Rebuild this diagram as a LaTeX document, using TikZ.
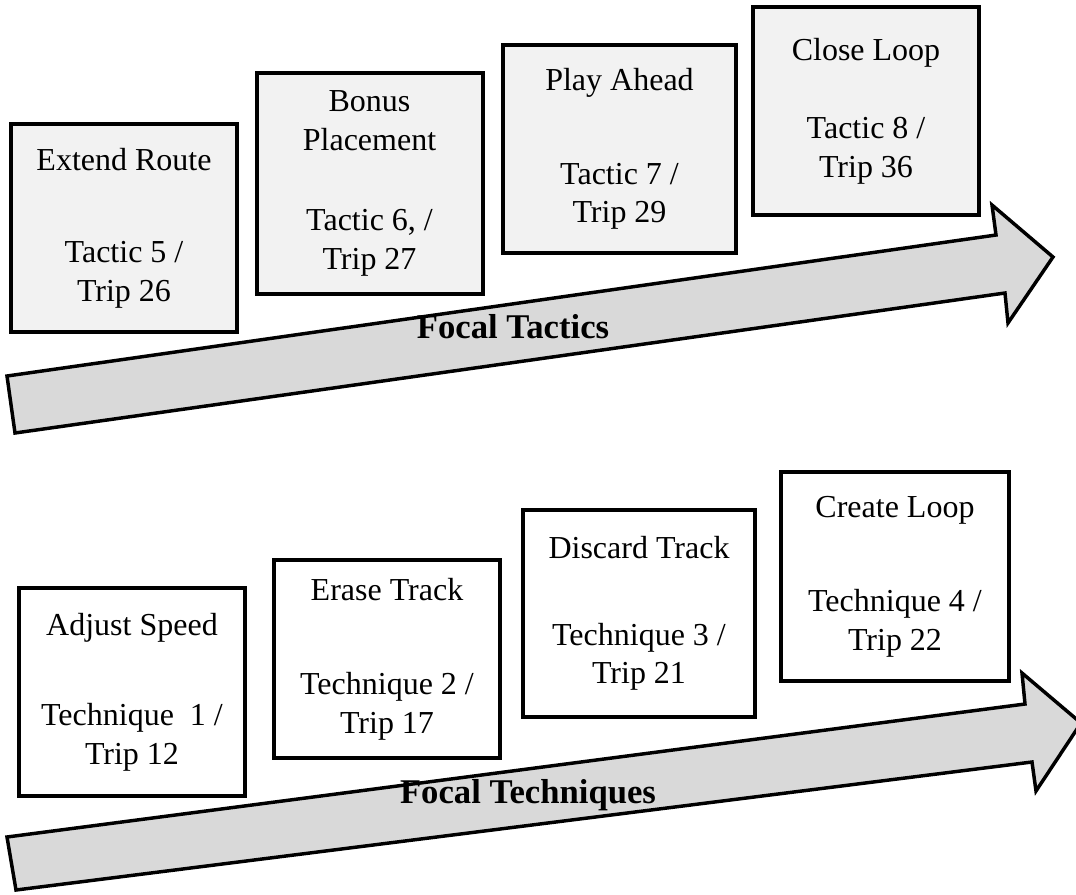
\documentclass[tikz,border=0pt]{standalone}
\usepackage{fontspec}
\setmainfont{Liberation Serif}
\usepackage{tikz}
\usetikzlibrary{positioning}
\usepackage{xcolor}
\definecolor{boxgrey}{HTML}{F2F2F2}
\definecolor{bandgrey}{HTML}{D9D9D9}

\begin{document}
\begin{tikzpicture}[x=0.75pt,y=-0.75pt,
  stage/.style={draw,line width=3pt,align=center,inner sep=0pt,font=\fontsize{24}{29}\selectfont},
  tactic/.style={stage,fill=boxgrey},
  technique/.style={stage,fill=white},
  band/.style={draw,line width=2.6pt,fill=bandgrey},
  bandlabel/.style={anchor=base,font=\fontsize{26}{30}\selectfont\bfseries}]
  \useasboundingbox (0,0) rectangle (1076,894);

  % progression arrows
  \draw[band] (7,376) -- (996,235) -- (992,205) -- (1053,257) -- (1008,323) -- (1005,293) -- (15,433) -- cycle;
  \draw[band] (7,837) -- (1025,704) -- (1022,673) -- (1081,723) -- (1036,791) -- (1032,762) -- (16,890) -- cycle;
  \node[bandlabel] (tacticslabel) at (513,338) {Focal Tactics};
  \node[bandlabel] (techlabel) at (528,803) {Focal Techniques};

  % tactics
  \node[tactic,minimum width=170pt,minimum height=156pt] (T5) at (124,228)
    {Extend Route\\[40pt] Tactic 5 /\\ Trip 26};
  \node[tactic,minimum width=169.5pt,minimum height=166pt] (T6) at (369.5,183.5)
    {Bonus\\ Placement\\[31pt] Tactic 6, /\\ Trip 27};
  \node[tactic,minimum width=175pt,minimum height=156pt] (T7) at (619.5,149)
    {Play Ahead\\[41pt] Tactic 7 /\\ Trip 29};
  \node[tactic,minimum width=170pt,minimum height=156pt] (T8) at (866,111)
    {Close Loop\\[29.5pt] Tactic 8 /\\ Trip 36};

  % techniques
  \node[technique,minimum width=170pt,minimum height=156pt] (Q1) at (132,692)
    {Adjust Speed\\[38.5pt] Technique~ 1 /\\ Trip 12};
  \node[technique,minimum width=169.5pt,minimum height=148.5pt] (Q2) at (387,659)
    {Erase Track\\[42pt] Technique 2 /\\ Trip 17};
  \node[technique,minimum width=174pt,minimum height=155pt] (Q3) at (639,613.5)
    {Discard Track\\[36pt] Technique 3 /\\ Trip 21};
  \node[technique,minimum width=171pt,minimum height=157pt] (Q4) at (895,576.5)
    {Create Loop\\[41.5pt] Technique 4 /\\ Trip 22};
\end{tikzpicture}
\end{document}
